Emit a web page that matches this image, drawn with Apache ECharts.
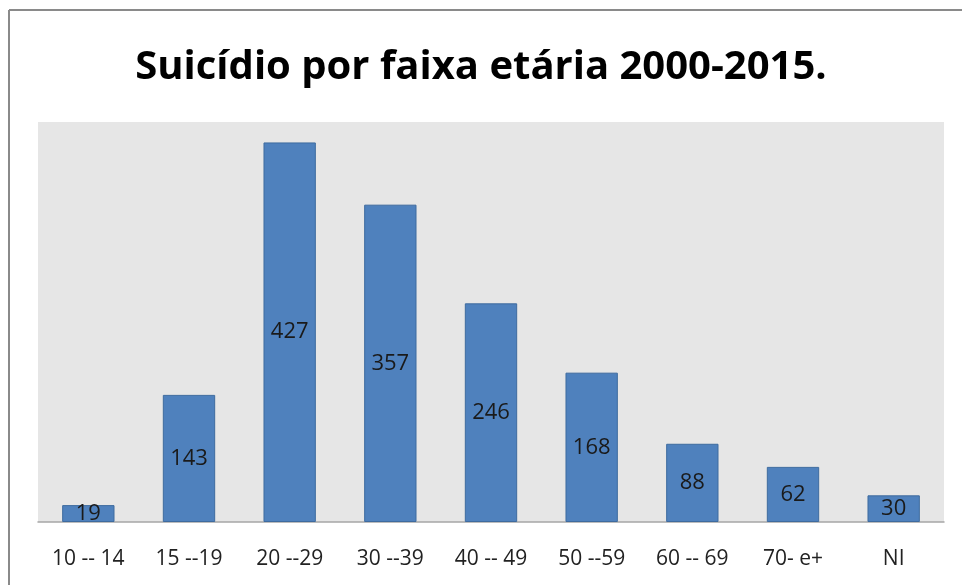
<!DOCTYPE html>
<html>
<head>
<meta charset="utf-8">
<script src="https://cdn.jsdelivr.net/npm/echarts@6/dist/echarts.min.js"></script>
<style>
  html, body { margin: 0; padding: 0; background: #fff; }
  #chart { width: 962px; height: 585px; }
</style>
</head>
<body>
<div id="chart"></div>
<script>
var faixas = ['10 -- 14', '15 --19', '20 --29', '30 --39', '40 -- 49', '50 --59', '60 -- 69', '70- e+', 'NI'];
var suicidios = [19, 143, 427, 357, 246, 168, 88, 62, 30];

var myChart = echarts.init(document.getElementById('chart'));
var option = {
  animation: false,
  title: {
    text: 'Suicídio por faixa etária 2000-2015.',
    left: 'center',
    top: 43,
    textStyle: { fontFamily: 'Open Sans', fontWeight: 'bold', fontSize: 40, color: '#000' }
  },
  graphic: [
    { type: 'line', shape: { x1: 9, y1: 10, x2: 962, y2: 10 }, style: { stroke: '#8a8a8a', lineWidth: 2 } },
    { type: 'line', shape: { x1: 9, y1: 10, x2: 9, y2: 585 }, style: { stroke: '#8a8a8a', lineWidth: 2 } }
  ],
  grid: {
    left: 38, right: 18, top: 122, bottom: 63,
    show: true, backgroundColor: '#e6e6e6', borderWidth: 0
  },
  xAxis: {
    type: 'category',
    data: faixas,
    axisTick: { show: false },
    axisLine: { lineStyle: { color: '#a6a6a6', width: 1.5 } },
    axisLabel: { interval: 0, fontFamily: 'Open Sans', fontSize: 21, color: '#222', margin: 27 }
  },
  yAxis: {
    type: 'value',
    min: 0, max: 450,
    show: false,
    splitLine: { show: false }
  },
  series: [{
    type: 'bar',
    data: suicidios,
    barWidth: '52%',
    itemStyle: { color: '#4f81bd', borderColor: '#3e6b9f', borderWidth: 1 },
    label: {
      show: true,
      position: 'inside',
      fontFamily: 'Open Sans',
      fontSize: 22,
      color: '#1a1a1a'
    }
  }]
};
myChart.setOption(option);
</script>
</body>
</html>
